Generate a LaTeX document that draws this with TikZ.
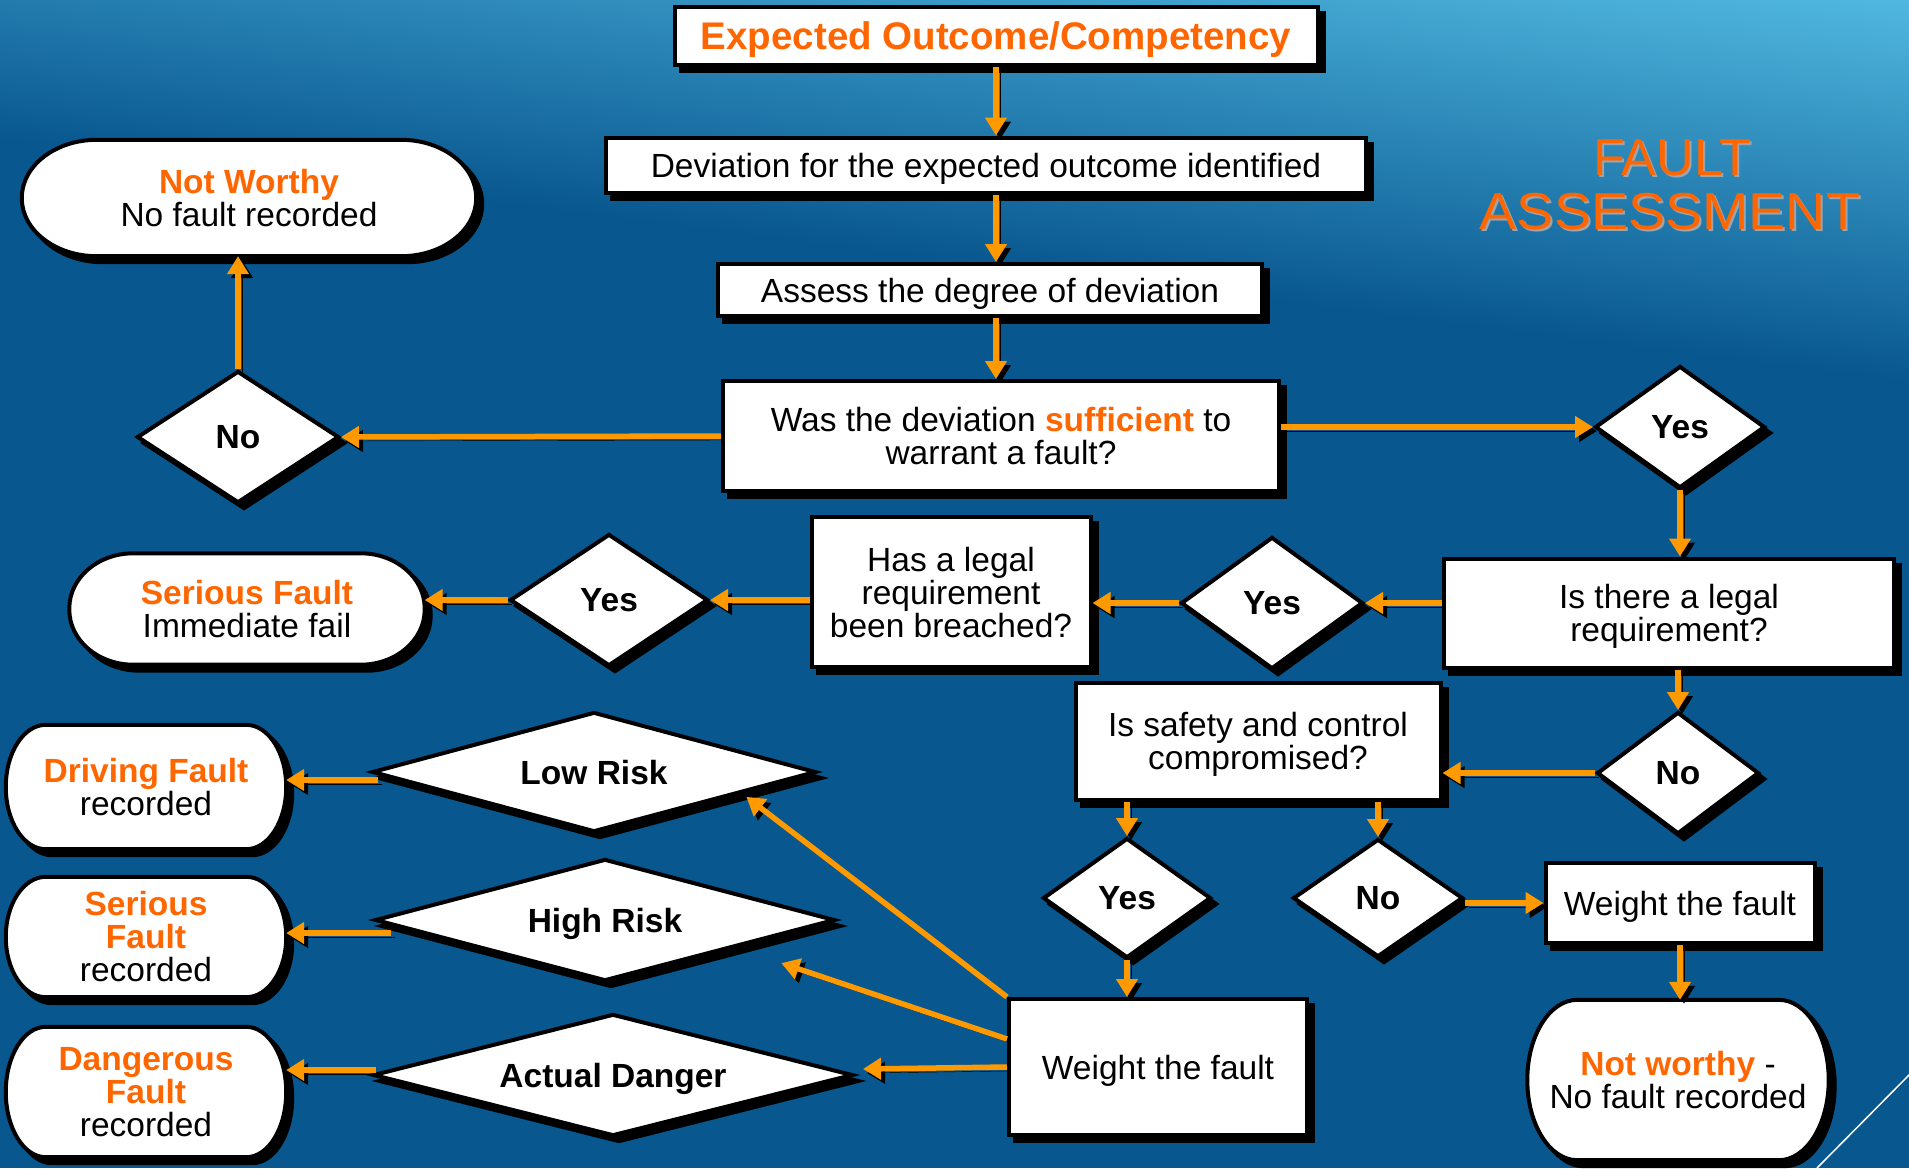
\documentclass[tikz,border=0pt]{standalone}
\usepackage{fontspec}
\usepackage{graphicx}
\setmainfont{Liberation Sans}
\usetikzlibrary{shapes.geometric,arrows.meta,shadows,calc}
\pgfdeclarelayer{back}
\pgfdeclarelayer{mid}
\pgfsetlayers{back,mid,main}
\definecolor{otext}{HTML}{FF6600}
\definecolor{oarrow}{HTML}{FF9900}
\definecolor{bgdark}{HTML}{08578F}
\definecolor{bglight}{HTML}{50B8E0}
\definecolor{tshadow}{HTML}{9AA5B0}
\newcommand\orb[1]{\textbf{\color{otext}#1}}
\newcommand\stadshape[3]{%
  \path[stadline] ([xshift=#2]#1.north west) -- ([xshift=-#2]#1.north east)
    arc[start angle=90, end angle=0, x radius=#2, y radius=#3]
    -- ([yshift=#3]#1.south east)
    arc[start angle=0, end angle=-90, x radius=#2, y radius=#3]
    -- ([xshift=#2]#1.south west)
    arc[start angle=-90, end angle=-180, x radius=#2, y radius=#3]
    -- ([yshift=-#3]#1.north west)
    arc[start angle=180, end angle=90, x radius=#2, y radius=#3] -- cycle;}
\tikzset{
  basetxt/.style={font=\fontsize{33.5}{33}\selectfont, text=black},
  blackshadow/.style={general shadow={fill=black, draw=black, line width=4pt, shadow xshift=6pt, shadow yshift=-6pt}},
  procbox/.style={basetxt, rectangle, draw=black, line width=4pt, fill=white, inner sep=0pt, align=center, text depth=0pt, blackshadow},
  decision/.style={basetxt, font=\fontsize{33.5}{33}\selectfont\bfseries, diamond, draw=black, line width=4pt, fill=white, inner sep=0pt, shape aspect=1.4, text depth=0pt, blackshadow},
  wide/.style={shape aspect=4},
  stadtext/.style={basetxt, rectangle, draw=none, inner sep=0pt, align=center},
  stadline/.style={draw=black, line width=4pt, fill=white, blackshadow},
  flow/.style={draw=oarrow, line width=5.5pt, -{Triangle[length=18pt,width=21pt]},
    preaction={draw=black, transform canvas={shift={(4pt,-4pt)}}}},
  titlesty/.style={font=\fontsize{52}{52}\selectfont, anchor=base, inner sep=0pt},
}
\begin{document}
\begin{tikzpicture}[x=1pt,y=1pt]
\useasboundingbox (0,0) rectangle (1909,-1168);
\begin{pgfonlayer}{back}
  \begin{scope}
    \clip (0,0) rectangle (1909,-1168);
    \fill[bgdark] (0,0) rectangle (1909,-1168);
    \begin{scope}[transform canvas={rotate=-7.2}]
      \shade[top color=bglight, bottom color=bgdark] (-400,-140) rectangle (2400,240);
      \fill[bglight] (-400,238) rectangle (2400,900);
    \end{scope}
    \draw[white, line width=1.5pt] (1909,-1075) -- (1817,-1168);
  \end{scope}
\end{pgfonlayer}

% title
\node[titlesty, text=tshadow] (t1s) at (1674,-177) {FAULT};
\node[titlesty, text=otext] (t1) at (1672,-175) {FAULT};
\node[titlesty, text=tshadow] (t2s) at (1672,-231) {\scalebox{1.07}[1]{ASSESSMENT}};
\node[titlesty, text=otext] (t2) at (1670,-229) {\scalebox{1.07}[1]{ASSESSMENT}};

% boxes
\node[procbox, minimum width=643, minimum height=58, font=\fontsize{38.5}{38.5}\selectfont\bfseries, text=otext] (A) at (996,-36) {Expected Outcome/Competency};
\node[procbox, minimum width=760, minimum height=55] (B) at (986,-165) {Deviation for the expected outcome identified};
\node[procbox, minimum width=544, minimum height=52] (C) at (990,-290) {Assess the degree of deviation};
\node[procbox, minimum width=556, minimum height=110] (D) at (1001,-436) {Was the deviation \orb{sufficient} to\\warrant a fault?};
\node[decision, minimum width=202, minimum height=132] (E) at (238,-437) {No};
\node[stadtext, minimum width=454, minimum height=116] (F) at (249,-198) {\orb{Not Worthy}\\No fault recorded};
\node[decision, minimum width=170, minimum height=122] (G) at (1680,-427) {Yes};
\node[procbox, minimum width=450, minimum height=109] (H) at (1669,-613) {Is there a legal\\requirement?};
\node[decision, minimum width=182, minimum height=132] (I) at (1272,-603) {Yes};
\node[procbox, minimum width=279, minimum height=150] (J) at (951,-592) {Has a legal\\requirement\\been breached?};
\node[decision, minimum width=198, minimum height=132] (K) at (609,-600) {Yes};
\node[stadtext, minimum width=355, minimum height=111] (L) at (247,-609) {\orb{Serious Fault}\\Immediate fail};
\node[decision, minimum width=162, minimum height=122] (M) at (1678,-773) {No};
\node[procbox, minimum width=365, minimum height=117] (N) at (1258,-741) {Is safety and control\\compromised?};
\node[decision, minimum width=168, minimum height=120] (O) at (1127,-898) {Yes};
\node[decision, minimum width=170, minimum height=118] (P) at (1378,-898) {No};
\node[procbox, minimum width=269, minimum height=80] (Q) at (1680,-903) {Weight the fault};
\node[stadtext, minimum width=301, minimum height=160] (R) at (1678,-1080) {\orb{Not worthy} -\\No fault recorded};
\node[procbox, minimum width=298, minimum height=136] (S) at (1158,-1067) {Weight the fault};
\node[decision, wide, minimum width=444, minimum height=120] (T) at (594,-772) {Low Risk};
\node[decision, wide, minimum width=460, minimum height=122] (U) at (605,-920) {High Risk};
\node[decision, wide, minimum width=480, minimum height=122] (V) at (613,-1075) {Actual Danger};
\node[stadtext, minimum width=280, minimum height=124] (W1) at (146,-787) {\orb{Driving Fault}\\recorded};
\node[stadtext, minimum width=280, minimum height=120] (W2) at (146,-937) {\orb{Serious}\\\orb{Fault}\\recorded};
\node[stadtext, minimum width=280, minimum height=130] (W3) at (146,-1092) {\orb{Dangerous}\\\orb{Fault}\\recorded};

\begin{pgfonlayer}{mid}
  \stadshape{F}{75pt}{58pt}
  \stadshape{L}{64pt}{55pt}
  \stadshape{R}{50pt}{80pt}
  \stadshape{W1}{40pt}{62pt}
  \stadshape{W2}{40pt}{60pt}
  \stadshape{W3}{40pt}{65pt}
\end{pgfonlayer}

% connectors
\draw[flow] (A.south) -- (A.south |- B.north);
\draw[flow] (A.south |- B.south) -- (A.south |- C.north);
\draw[flow] (A.south |- C.south) -- (A.south |- D.north);
\draw[flow] (D.west) -- (E.east);
\draw[flow] (E.north) -- (E.north |- F.south);
\draw[flow] (D.east |- G.west) -- (G.west);
\draw[flow] (G.south) -- (G.south |- H.north);
\draw[flow] (H.west |- I.east) -- (I.east);
\draw[flow] (I.west) -- (I.west -| J.east);
\draw[flow] (J.west |- K.east) -- (K.east);
\draw[flow] (K.west) -- (K.west -| L.east);
\draw[flow] (M.north |- H.south) -- (M.north);
\draw[flow] (M.west) -- (M.west -| N.east);
\draw[flow] (O.north |- N.south) -- (O.north);
\draw[flow] (P.north |- N.south) -- (P.north);
\draw[flow] (P.east |- Q.west) -- (Q.west);
\draw[flow] (Q.south) -- (Q.south |- R.north);
\draw[flow] (O.south) -- (O.south |- S.north);
\draw[flow] ($(T.west)+(8,-8)$) -- ($(T.west -| W1.east)+(0,-8)$);
\draw[flow] ($(U.west)+(18,-13)$) -- ($(U.west -| W2.east)+(0,-13)$);
\draw[flow] ($(V.west)+(5,5)$) -- ($(V.west -| W3.east)+(0,5)$);
\draw[flow] (S.north west) -- ($(T.east)!0.32!(T.south)+(0,-5)$);
\draw[flow] ($(S.north west)!0.3!(S.south west)$) -- ($(U.east)!0.24!(U.south)+(0,-28)$);
\draw[flow] (S.west) -- ($(V.east)+(8,6)$);
\end{tikzpicture}
\end{document}
